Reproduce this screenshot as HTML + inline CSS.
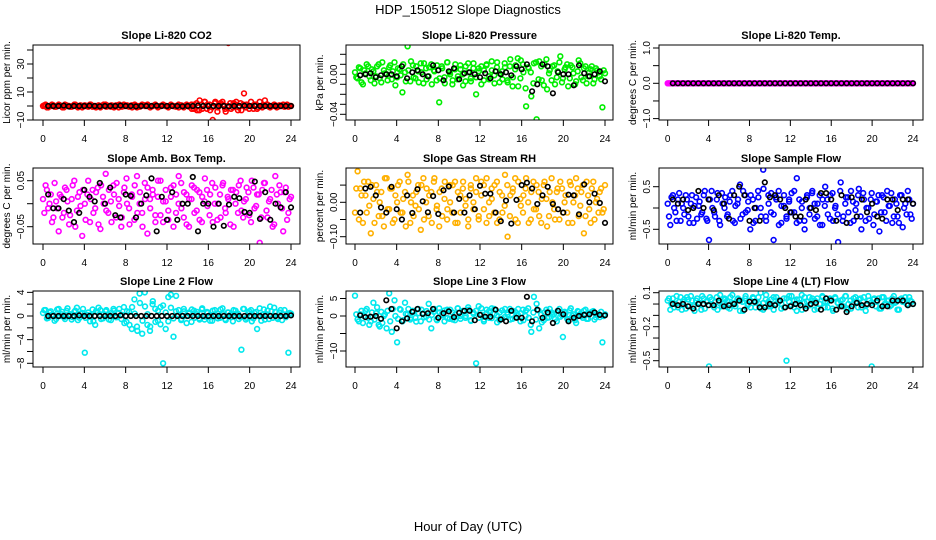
<!DOCTYPE html>
<html><head><meta charset="utf-8"><style>
html,body{margin:0;padding:0;background:#fff;}
svg{display:block;font-family:"Liberation Sans",sans-serif;}
</style></head><body>
<svg id="chart" width="936" height="540" viewBox="0 0 936 540">
<text x="468" y="14" text-anchor="middle" font-size="13">HDP_150512  Slope Diagnostics</text>
<text x="468" y="531" text-anchor="middle" font-size="13">Hour of Day (UTC)</text>
</svg>
<script>
const xTicks=[0,4,8,12,16,20,24];
const co2C=[0,1,-1,0,0.5,-0.5,1,0,-1,0.5,0,-0.5,1,0,0,-1,0.5,0,1,-0.5,0,0,-1,0.5,1,0,-0.5,0,0.5,-1,0,1,0,-0.5,0.5,0,-1,0,1,0.5,0,-0.5,0,1,-1,0,0.5,0,-0.5,1,0,0,-1,0.5,0,1,-0.5,-2,1,-3,4,-2,3,1,-3,-10,3,-1,2,1,-4,45,-2,2,3,-1,-3,9,1,-2,0,1,-2,3,-1,4,1,-1,0,0.5,-0.5,0,1,0,-0.5,0];
const co2C2=[0.5,-1,0,1,-0.5,0,0.5,-1,1,0,-0.5,0,1,-1,0.5,0,0,-0.5,1,0,-1,0.5,0,1,-0.5,0,0.5,-1,0,1,-0.5,0,0.5,0,-1,1,0,-0.5,0.5,0,1,-1,0,0.5,-0.5,0,1,0,-1,0.5,0,-0.5,1,0,-1,0.5,0,1,-2,2,-3,1,3,-2,1,-1,2,-4,1,3,-2,0,2,-1,1,-3,2,1,-1,0,3,-2,1,-1,0,0.5,1,-0.5,0,1,-1,0.5,0,-0.5,1,0];
const co2B=[0,0,0,0.3,-0.3,0,0,0,0.2,0,-0.2,0,0,0,0.3,0,0,-0.3,0,0,0,0.2,0,0,0,0,-0.2,0,0,0.3,0,0,0,0,0,-0.3,0,0,0.2,0,0,0,0,0,0,0,0,0];
const presC=[0.002,-0.004,0.006,-0.01,0.001,0.008,-0.006,0.003,-0.002,0.01,-0.008,0.004,0,0.007,-0.005,0.012,-0.003,0.005,-0.018,0.002,0.028,-0.007,0.009,-0.004,0.003,0.011,-0.009,0.006,-0.002,0.01,0.004,-0.006,-0.028,0.008,-0.003,0.012,0.002,-0.01,0.005,-0.005,0.009,0,-0.007,0.011,-0.004,0.006,-0.02,0.003,0.008,-0.006,0.01,-0.002,0.004,-0.009,0.012,0.001,-0.005,0.007,-0.008,0.015,-0.003,0.009,-0.012,0.014,0.002,-0.032,0.006,-0.022,0.011,-0.045,0.013,-0.006,0.01,-0.015,0.004,0.008,-0.01,0.003,0.018,-0.004,0.007,-0.012,0.009,0.001,-0.007,0.014,-0.003,0.006,-0.009,0.002,0.008,-0.005,0.004,-0.002,-0.033,0.001];
const presC2=[-0.003,0.007,-0.008,0.004,0.01,-0.002,0.005,-0.009,0.008,-0.004,0.012,0.001,-0.006,0.009,0.003,-0.011,0.006,-0.001,0.01,-0.007,0.004,0.013,-0.003,0.008,-0.008,0.002,0.011,-0.005,0.007,-0.01,0.003,0.009,-0.004,0.006,-0.009,0.012,0.0,-0.006,0.01,-0.002,0.005,-0.011,0.008,0.002,-0.007,0.011,-0.003,0.006,-0.01,0.004,0.009,-0.005,0.013,-0.001,0.007,-0.008,0.003,0.011,-0.006,0.008,-0.012,0.005,0.016,-0.004,0.01,-0.014,0.007,0.002,-0.009,0.012,-0.005,0.008,-0.011,0.015,0.001,-0.006,0.009,-0.003,0.012,-0.008,0.005,0.01,-0.004,0.007,-0.01,0.003,0.011,-0.006,0.008,-0.002,0.005,-0.009,0.006,0.002,-0.005,0.004];
const presB=[-0.001,0,0.001,-0.003,-0.001,0,0,-0.002,0.008,-0.004,0.002,0.004,0,-0.002,0.009,0.004,-0.006,0.003,0.006,-0.005,0.001,0.002,0,-0.003,0.001,-0.004,0.003,0,0.002,-0.001,0.008,0.005,0.01,-0.017,-0.01,0.01,0.008,-0.019,0.002,0,0,-0.011,0.009,0.001,-0.002,0,0.003,-0.007];
const tempC=[0,0,0,0,0,0,0,0,0,0,0,0,0,0,0,0,0,0,0,0,0,0,0,0,0,0,0,0,0,0,0,0,0,0,0,0,0,0,0,0,0,0,0,0,0,0,0,0,0,0,0,0,0,0,0,0,0,0,0,0,0,0,0,0,0,0,0,0,0,0,0,0,0,0,0,0,0,0,0,0,0,0,0,0,0,0,0,0,0,0,0,0,0,0,0,0];
const tempC2=[0,0,0,0,0,0,0,0,0,0,0,0,0,0,0,0,0,0,0,0,0,0,0,0,0,0,0,0,0,0,0,0,0,0,0,0,0,0,0,0,0,0,0,0,0,0,0,0,0,0,0,0,0,0,0,0,0,0,0,0,0,0,0,0,0,0,0,0,0,0,0,0,0,0,0,0,0,0,0,0,0,0,0,0,0,0,0,0,0,0,0,0,0,0,0,0];
const tempB=[0,0,0,0,0,0,0,0,0,0,0,0,0,0,0,0,0,0,0,0,0,0,0,0,0,0,0,0,0,0,0,0,0,0,0,0,0,0,0,0,0,0,0,0,0,0,0,0];
const ambC=[0.01,0.04,-0.01,0.02,-0.03,0.005,-0.06,0.015,-0.02,0.03,-0.045,0.01,0.05,-0.015,0.025,-0.07,0.0,0.02,-0.04,0.03,-0.01,0.035,-0.055,0.015,0.065,-0.02,0.005,0.04,-0.03,0.01,-0.05,0.025,0.055,-0.01,0.02,-0.035,0.06,0.0,-0.02,0.045,-0.065,0.01,0.03,-0.025,0.015,0.05,-0.04,0.005,-0.015,0.035,-0.05,0.02,0.06,-0.01,0.025,-0.045,0.01,0.04,-0.02,0.03,-0.035,0.015,0.055,-0.005,0.02,-0.04,0.035,0.0,-0.03,0.045,-0.02,0.01,0.03,-0.05,0.025,0.04,-0.015,0.005,0.035,-0.025,0.05,-0.01,0.02,-0.085,0.03,0.045,-0.03,0.01,-0.05,0.06,0.0,0.025,-0.06,0.035,-0.02,0.015];
const ambC2=[-0.02,0.03,0.0,-0.04,0.045,-0.01,0.02,-0.03,0.035,0.005,-0.025,0.04,-0.05,0.015,-0.005,0.03,-0.035,0.05,0.01,-0.02,0.025,-0.045,0.04,0.0,-0.015,0.03,-0.04,0.02,0.045,-0.005,-0.03,0.035,0.0,-0.045,0.015,0.04,-0.02,0.025,-0.05,0.01,0.035,-0.01,0.02,-0.04,0.05,-0.025,0.005,0.03,-0.035,0.015,0.04,-0.02,0.0,0.045,-0.03,0.02,-0.05,0.01,0.035,-0.015,0.025,-0.04,0.005,0.03,-0.025,0.045,0.0,-0.035,0.02,0.04,-0.01,0.015,-0.045,0.03,0.0,-0.02,0.05,-0.03,0.01,0.025,-0.04,0.035,-0.005,0.02,-0.03,0.045,-0.015,0.005,0.03,-0.045,0.02,0.04,-0.01,0.025,-0.035,0.01];
const ambB=[0.02,-0.01,-0.01,0.01,-0.015,-0.04,-0.02,0.03,0.015,0.005,0.045,0.0,0.035,-0.025,-0.03,0.02,0.017,-0.03,0.0,0.018,0.055,-0.06,0.015,-0.035,0.025,-0.035,0.0,0.0,0.058,-0.06,0.0,0.0,-0.05,0.0,-0.048,-0.002,0.015,0.012,-0.018,-0.02,0.048,-0.033,0.025,-0.035,0.0,-0.008,0.025,-0.008];
const rhC=[-0.03,0.09,0.04,-0.06,0.02,0.06,-0.09,0.01,0.05,-0.04,0.03,-0.07,0.07,-0.02,0.04,-0.05,0.0,0.06,-0.03,0.03,0.08,-0.06,0.02,-0.01,0.05,-0.08,0.07,0.0,-0.04,0.03,0.06,-0.02,-0.07,0.04,0.01,-0.05,0.05,-0.03,0.06,-0.06,0.02,0.04,-0.01,-0.07,0.05,0.0,0.03,-0.05,0.06,-0.02,0.07,-0.04,0.01,0.05,-0.06,0.03,-0.03,0.08,-0.1,0.02,0.04,-0.05,0.06,-0.01,0.02,0.07,-0.06,0.03,-0.02,0.05,-0.04,0.01,0.06,-0.07,0.03,0.0,-0.05,0.04,0.06,-0.03,0.02,-0.06,0.05,0.0,0.07,-0.04,0.03,-0.09,0.06,-0.02,0.04,-0.05,0.01,0.03,-0.03,0.05];
const rhC2=[0.04,-0.05,0.02,0.06,-0.03,-0.01,0.05,-0.06,0.03,0.0,-0.04,0.07,-0.02,0.04,-0.06,0.02,0.05,-0.03,0.01,-0.07,0.06,0.0,-0.04,0.03,-0.02,0.05,-0.05,0.04,0.02,-0.06,0.07,-0.01,0.03,-0.04,0.06,-0.02,0.0,0.05,-0.06,0.03,-0.03,0.06,0.01,-0.05,0.04,-0.02,0.07,-0.04,0.02,0.05,-0.06,0.0,0.04,-0.03,0.06,-0.05,0.02,-0.01,0.05,-0.04,0.03,0.07,-0.06,0.01,-0.03,0.04,0.0,-0.05,0.06,-0.02,0.03,-0.06,0.05,0.01,-0.04,0.07,-0.02,0.03,-0.05,0.04,0.0,-0.03,0.06,-0.06,0.02,0.04,-0.01,0.05,-0.04,0.02,-0.06,0.06,0.0,-0.03,0.04,-0.02];
const rhB=[-0.03,0.04,0.045,0.02,-0.015,-0.03,0.045,-0.02,-0.05,0.02,-0.031,0.038,0.003,-0.029,0.018,-0.034,0.035,0.046,-0.03,0.01,-0.03,0.02,-0.02,0.048,0.025,0.025,-0.03,-0.055,0.005,-0.062,0.007,0.05,0.057,0.04,-0.005,0.02,0.045,-0.005,-0.02,-0.03,0.022,0.02,-0.035,0.052,0.0,0.025,-0.002,-0.06];
const flowC=[0.1,-0.4,0.3,-0.1,0.2,-0.3,0.0,0.3,-0.2,0.1,-0.35,0.25,0.05,-0.15,0.3,-0.25,-0.75,0.4,-0.1,0.2,-0.3,0.35,0.0,-0.2,0.15,0.4,-0.35,0.1,0.55,-0.15,0.3,-0.05,-0.5,0.2,-0.3,0.4,0.0,0.9,-0.2,0.3,-0.1,-0.75,0.25,0.4,-0.35,0.05,-0.2,0.2,0.35,-0.1,0.7,-0.3,0.15,-0.5,0.3,0.0,0.4,-0.25,0.1,-0.4,0.2,0.5,-0.15,0.3,-0.3,0.05,-0.8,0.6,-0.2,0.25,-0.1,0.4,-0.3,0.1,0.45,-0.5,0.2,0.0,-0.25,0.35,-0.15,0.15,-0.55,0.3,-0.1,0.4,0.05,-0.35,0.2,-0.2,0.3,-0.45,0.1,0.4,-0.15,0.1];
const flowC2=[-0.2,0.25,0.0,-0.3,0.35,0.1,-0.15,0.2,-0.35,0.3,0.05,-0.25,0.15,-0.1,0.4,-0.3,0.2,0.0,-0.2,0.35,-0.4,0.1,0.25,-0.15,0.3,-0.3,0.05,0.2,-0.25,0.4,-0.1,0.15,0.3,-0.35,0.0,0.25,-0.2,0.45,-0.3,0.1,0.35,-0.15,0.2,-0.4,0.05,0.3,-0.25,0.15,-0.1,0.4,-0.35,0.2,0.0,-0.3,0.25,-0.15,0.35,0.1,-0.2,0.3,-0.4,0.05,0.2,-0.25,0.35,0.0,-0.15,0.4,-0.3,0.1,0.25,-0.35,0.15,-0.05,0.3,-0.2,0.35,-0.3,0.0,0.2,-0.4,0.15,0.3,-0.1,0.25,-0.3,0.05,0.35,-0.2,0.1,-0.35,0.3,0.0,-0.15,0.2,-0.25];
const flowB=[0.2,0.1,0.2,-0.05,0.0,0.4,0.0,0.2,-0.05,0.3,0.1,-0.25,0.3,0.5,0.3,-0.3,0.0,-0.3,0.6,0.25,0.3,0.2,0.0,-0.1,-0.2,-0.2,0.2,0.0,-0.05,0.35,0.35,0.2,-0.3,0.3,-0.35,0.25,-0.2,0.2,-0.1,0.1,-0.2,-0.25,0.2,0.2,-0.05,0.2,0.2,0.1];
const l2C=[0.5,1,-0.3,0.8,0.2,-0.5,1.2,0.3,-0.2,0.9,0.1,-0.6,0.7,1.4,-0.3,0.5,-6.2,0.2,-0.9,1.1,-1.5,0.6,1.0,-0.4,0.8,0.3,-0.7,1.2,-0.2,0.5,-0.5,1.5,-1.0,0.7,-2.2,2.8,-1.8,3.8,-3.0,4.0,-1.5,-2.5,2.0,1.2,-0.8,1.5,-8,-2.2,3.2,3.6,-3.5,3.4,1.0,-0.5,0.8,-1.2,0.4,1.1,-0.3,0.7,-0.6,1.3,-0.1,0.5,-0.8,0.9,0.2,-0.4,1.1,0.3,-0.7,0.6,-0.2,1.0,0.4,-0.5,-5.7,1.2,-0.3,0.8,-0.9,0.5,-2.2,1.3,0.2,-0.6,0.9,1.6,-0.3,0.7,-0.5,1.0,0.3,-0.2,-6.2,0.4];
const l2C2=[1.0,-0.4,0.6,0.2,-0.8,1.1,0.0,0.7,-0.5,1.3,0.3,-0.2,0.9,-0.7,0.4,1.2,-0.3,0.6,0.1,-0.9,0.8,1.4,-0.5,0.3,1.0,-0.6,0.5,0.9,-0.2,1.2,0.2,-1.2,0.8,-1.5,1.5,0.4,-2.5,2.2,-0.8,1.6,0.3,-1.8,2.5,-1.0,0.9,-1.4,1.8,0.6,-0.9,1.4,-0.4,0.8,0.2,-0.7,1.2,0.0,0.6,-1.0,0.9,0.3,-0.4,1.1,-0.6,0.7,0.1,-0.8,1.0,0.4,-0.3,1.3,-0.5,0.6,0.2,-0.9,0.9,0.4,-0.2,1.2,-0.6,0.5,1.0,-0.4,0.7,0.0,-0.8,1.1,0.3,-0.5,0.8,1.4,-0.3,0.6,-0.7,1.0,0.2,0.5];
const l2B=[0,0,0,0,0,0,0.1,0,0,0,0,0,0,0,0.1,0,0,0,0,0,0,0,0,0,0,0,0,0,0,0,0,0,0,0,0,0,0,0,0,0,0,0,0,0,0,0,0,0.1];
const l3C=[5.8,-1,0.5,-2,1.5,-0.5,-1.5,3.8,0.8,-2.5,1.2,0,-3.5,6.5,-4.5,4.5,-7.5,2.0,-1.5,3.8,0.5,-1.0,1.5,-0.5,2.0,-1.5,0.8,-0.2,3.5,-3.5,1.2,-1.0,2.2,0.5,-1.5,1.8,-0.8,1.0,-1.2,2.2,0.0,1.5,-0.5,2.5,-1.2,1.0,-13.5,2.8,0.3,-1.5,1.8,-0.5,2.2,0.6,-1.8,1.0,-0.8,2.0,0.4,-1.0,1.5,-0.3,2.0,0.8,-1.2,1.6,-0.5,-4.5,5.5,3.5,-3.5,-1.8,1.0,-0.5,2.0,0.5,-0.9,1.5,-0.2,-6.0,0.8,-1.0,2.2,0.5,-2.0,1.2,0.0,1.5,-0.8,0.6,1.2,-1.0,0.5,-0.3,-7.5,0.5];
const l3C2=[0.5,-1.5,1.5,0.0,2.0,-2.5,1.0,-1.0,2.5,-3.0,-2.0,0.5,1.5,-1.5,2.0,0.0,-0.8,1.8,-1.2,0.6,2.0,-0.5,1.2,-1.6,0.8,1.8,-0.4,1.4,-1.0,0.3,2.0,-1.2,1.0,0.2,1.6,-0.6,1.8,-1.0,0.5,2.2,-0.8,1.2,0.0,1.8,-1.4,0.6,1.5,-0.5,2.2,-1.0,0.8,1.4,-0.6,2.0,0.2,-1.2,1.6,-0.3,1.0,2.0,-0.8,1.2,0.4,-1.5,1.8,0.0,2.2,-2.5,1.0,-1.0,1.6,0.4,-1.2,1.8,-0.4,1.0,0.6,-1.5,2.0,0.2,1.2,-0.8,1.6,0.0,-1.2,1.4,0.6,-0.5,1.8,-0.8,0.9,1.4,-0.4,0.6,1.2,0.0];
const l3B=[0.2,-0.3,-0.2,0.0,-0.8,4.5,2.0,-3.5,-1.5,-0.7,1.2,2.0,0.6,0.8,2.0,-0.5,0.8,1.3,-0.3,0.9,1.5,1.5,-1.2,0.3,-0.2,-0.2,1.8,-1.0,-1.5,1.5,-0.5,-0.5,5.5,-1.5,1.8,-0.5,1.0,-2.0,1.5,0.5,-1.5,-0.5,0.0,0.3,0.5,1.0,0.3,0.2];
const l4C=[0.03,-0.05,0.05,0.0,-0.03,0.06,0.02,-0.04,0.04,0.07,-0.02,0.03,0.0,-0.05,0.05,0.02,-0.55,0.04,-0.03,0.06,0.01,-0.02,0.05,0.03,-0.04,0.08,0.0,0.04,-0.06,0.02,0.05,-0.01,0.03,0.06,-0.03,0.01,0.1,-0.05,0.04,0.02,-0.02,0.06,0.0,0.03,-0.04,0.05,-0.5,0.02,0.07,-0.03,0.04,0.01,-0.05,0.06,0.02,-0.01,0.05,0.03,-0.04,0.0,0.06,0.02,-0.03,0.04,-0.06,0.05,0.01,0.03,-0.02,0.07,0.0,-0.04,0.05,0.02,0.04,-0.03,0.06,-0.01,0.03,-0.55,0.05,0.02,-0.04,0.06,0.0,0.03,-0.02,0.05,0.01,-0.05,0.04,0.02,0.06,-0.01,0.03,0.0];
const l4C2=[0.05,0.0,-0.03,0.07,0.02,-0.05,0.04,0.06,-0.02,0.03,-0.06,0.05,0.01,0.07,-0.04,0.03,0.06,-0.01,0.02,-0.05,0.08,0.0,0.04,-0.03,0.06,0.01,-0.02,0.05,0.03,-0.06,0.07,0.0,-0.03,0.05,0.02,0.06,-0.04,0.01,0.08,-0.02,0.04,-0.05,0.06,0.02,0.0,-0.03,0.05,0.07,-0.01,0.03,-0.06,0.04,0.08,0.01,-0.02,0.06,0.03,-0.05,0.05,0.0,0.07,-0.03,0.02,0.05,-0.04,0.06,0.01,-0.02,0.04,0.07,-0.05,0.03,0.0,0.06,-0.03,0.05,0.02,-0.06,0.07,0.01,0.04,-0.02,0.05,-0.04,0.06,0.0,0.03,-0.01,0.07,0.02,-0.05,0.05,0.03,0.0,0.06,0.02];
const l4B=[0.0,-0.01,0.0,-0.02,-0.04,0.0,0.0,-0.01,-0.01,0.03,-0.02,-0.01,0.0,0.03,-0.05,0.02,0.02,-0.03,-0.03,0.0,-0.01,0.03,-0.03,-0.02,0.0,-0.01,-0.04,0.0,0.01,-0.05,0.05,0.03,-0.05,-0.02,-0.07,-0.02,0.01,-0.01,0.0,-0.01,0.03,-0.02,-0.02,0.03,0.03,0.03,-0.01,0.0];

const cols=[{L:33,R:300,x0:43,x24:291},{L:346,R:613,x0:355,x24:605},{L:659,R:923,x0:667.7,x24:913}];
const rows=[{T:45,B:120},{T:168,B:244},{T:291,B:367}];
const panels=[
 {id:'co2',title:'Slope Li-820 CO2',yl:'Licor ppm per min.',c:co2C,c2:co2C2,b:co2B,col:'#ff0000',m:[-10,120,30,64],ticks:[-10,0,10,20,30,40],labs:[-10,10,30],fmt:v=>String(v)},
 {id:'pressure',title:'Slope Li-820 Pressure',yl:'kPa per min.',c:presC,c2:presC2,b:presB,col:'#00ee00',m:[0,74.3,-0.04,114.3],ticks:[-0.04,-0.03,-0.02,-0.01,0,0.01,0.02],labs:[-0.04,0],fmt:v=>v.toFixed(2)},
 {id:'temp',title:'Slope Li-820 Temp.',yl:'degrees C per min.',c:tempC,c2:tempC2,b:tempB,col:'#ff00ff',m:[0,83.3,1,48],ticks:[-1,-0.5,0,0.5,1],labs:[-1,0,1],fmt:v=>v.toFixed(1)},
 {id:'amb-temp',title:'Slope Amb. Box Temp.',yl:'degrees C per min.',c:ambC,c2:ambC2,b:ambB,col:'#ff00ff',m:[0.05,180.7,-0.05,226.7],ticks:[-0.05,0,0.05],labs:[-0.05,0.05],fmt:v=>v.toFixed(2)},
 {id:'rh',title:'Slope Gas Stream RH',yl:'percent per min.',c:rhC,c2:rhC2,b:rhB,col:'#ffb000',m:[0,202.3,-0.1,236.7],ticks:[-0.1,-0.05,0,0.05],labs:[-0.1,0],fmt:v=>v.toFixed(2)},
 {id:'sample-flow',title:'Slope Sample Flow',yl:'ml/min per min.',c:flowC,c2:flowC2,b:flowB,col:'#0000ff',m:[0.5,186.7,-0.5,229.3],ticks:[-0.5,0,0.5],labs:[-0.5,0.5],fmt:v=>v.toFixed(1)},
 {id:'line2',title:'Slope Line 2 Flow',yl:'ml/min per min.',c:l2C,c2:l2C2,b:l2B,col:'#00e8ee',m:[0,316,-8,363.3],ticks:[-8,-6,-4,-2,0,2,4],labs:[-8,-4,0,4],fmt:v=>String(v)},
 {id:'line3',title:'Slope Line 3 Flow',yl:'ml/min per min.',c:l3C,c2:l3C2,b:l3B,col:'#00e8ee',m:[0,316,-10,351],ticks:[-10,-5,0,5],labs:[-10,0,5],fmt:v=>String(v)},
 {id:'line4',title:'Slope Line 4 (LT) Flow',yl:'ml/min per min.',c:l4C,c2:l4C2,b:l4B,col:'#00e8ee',m:[0.1,292.7,-0.2,326.7],ticks:[-0.5,-0.4,-0.3,-0.2,-0.1,0,0.1],labs:[-0.5,-0.2,0.1],fmt:v=>v.toFixed(1)}
];
const NS='http://www.w3.org/2000/svg';
const svg=document.getElementById('chart');
function mk(tag,attrs,parent){const e=document.createElementNS(NS,tag);for(const k in attrs)e.setAttribute(k,attrs[k]);parent.appendChild(e);return e;}
panels.forEach((p,i)=>{
 const C=cols[i%3],Rw=rows[Math.floor(i/3)];
 const xs=h=>C.x0+(C.x24-C.x0)*h/24;
 const ys=v=>p.m[1]+(v-p.m[0])*(p.m[3]-p.m[1])/(p.m[2]-p.m[0]);
 const g=mk('g',{},svg);
 
 
 const t=mk('text',{x:(C.L+C.R)/2,y:Rw.T-6,'text-anchor':'middle','font-size':'11','font-weight':'bold'},g);
 t.textContent=p.title;
 
 
 const yx=C.L-23, yc=(Rw.T+Rw.B)/2;
 const yt=mk('text',{x:yx,y:yc,'text-anchor':'middle','font-size':'10',transform:`rotate(-90 ${yx} ${yc})`},g);
 yt.textContent=p.yl;
 
 
 const cid='clip'+i;
 const cp=mk('clipPath',{id:cid},g);
 mk('rect',{x:C.L,y:Rw.T,width:C.R-C.L,height:Rw.B-Rw.T},cp);
 const pts=mk('g',{'clip-path':`url(#${cid})`},g);
 
 
 const n=p.c.length;
 p.c.forEach((v,k)=>{
  const h=k*24/(n-1);
  const c=mk('circle',{cx:xs(h).toFixed(1),cy:ys(v).toFixed(1),r:2.4,fill:'none',stroke:p.col,'stroke-width':1.6},pts);
  
  
 });
 const n2=p.c2.length;
 p.c2.forEach((v,k)=>{
  const h=(k+0.5)*24/n2;
  const c=mk('circle',{cx:xs(h).toFixed(1),cy:ys(v).toFixed(1),r:2.4,fill:'none',stroke:p.col,'stroke-width':1.6},pts);
  
  
 });
 const nb=p.b.length;
 p.b.forEach((v,k)=>{
  const h=0.5+k*23.5/(nb-1);
  const c=mk('circle',{cx:xs(h).toFixed(1),cy:ys(v).toFixed(1),r:2.3,fill:'none',stroke:'#000','stroke-width':1.6},pts);
  
  
 });
 const box=mk('rect',{x:C.L,y:Rw.T,width:C.R-C.L,height:Rw.B-Rw.T,fill:'none',stroke:'#000','stroke-width':1},g);
 
 
 xTicks.forEach(h=>{
  mk('line',{x1:xs(h),x2:xs(h),y1:Rw.B,y2:Rw.B+6,stroke:'#000'},g);
  const l=mk('text',{x:xs(h),y:Rw.B+22,'text-anchor':'middle','font-size':'10'},g);
  l.textContent=h;
  
  
 });
 p.ticks.forEach(v=>{mk('line',{x1:C.L-6,x2:C.L,y1:ys(v),y2:ys(v),stroke:'#000'},g);});
 p.labs.forEach(v=>{
  const lx=C.L-9,ly=ys(v);
  const l=mk('text',{x:lx,y:ly,'text-anchor':'middle','font-size':'10',transform:`rotate(-90 ${lx} ${ly})`},g);
  l.textContent=p.fmt(v).replace('-','\u2212');
  
  
 });
});
</script>
</body></html>
